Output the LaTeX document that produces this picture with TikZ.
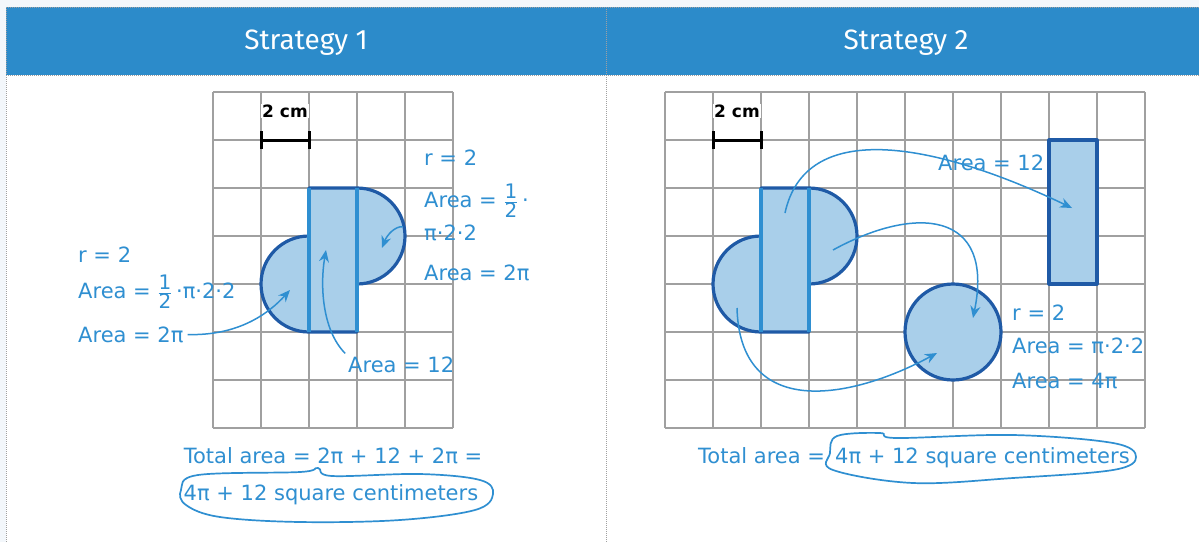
\documentclass[tikz,border=0pt]{standalone}
\usepackage{fontspec}
\setmainfont{DejaVu Sans}
\newfontfamily\headfont{Fira Sans}
\usepackage{xcolor}
\usetikzlibrary{arrows.meta}

\definecolor{headblue}{HTML}{2C8BCA}
\definecolor{penblue}{HTML}{2F8FD1}
\definecolor{edgeblue}{HTML}{1F5AA6}
\definecolor{fillblue}{HTML}{A9CFEA}
\definecolor{gridgrey}{HTML}{A0A0A0}
\definecolor{pagetint}{HTML}{F3F7FB}

\newcommand\halfof{$\frac{\hbox{\fontsize{20}{20}\selectfont 1}}{\hbox{\fontsize{20}{20}\selectfont 2}}$}

\tikzset{
  gridline/.style={gridgrey, line width=2pt},
  shapeedge/.style={edgeblue, line width=3.2pt, line join=round},
  sideedge/.style={penblue, line width=4pt},
  pen/.style={penblue, font=\fontsize{21}{25}\selectfont, inner sep=0pt, anchor=base west},
  pointer/.style={penblue, line width=1.5pt, shorten <=4pt, -{Stealth[length=12pt,width=10pt]}},
  ring/.style={penblue, line width=1.7pt},
  title/.style={white, font=\headfont\fontsize{28}{32}\selectfont},
  scalebar/.style={black, line width=3pt},
  scaletext/.style={black, fill=white, inner sep=1pt, font=\bfseries\fontsize{17}{19}\selectfont},
  border/.style={gridgrey, densely dotted, line width=1pt},
}

\begin{document}
\begin{tikzpicture}[x=1pt,y=-1pt]
        \useasboundingbox (0,0) rectangle (1199,542);
        % page and header band
        \fill[pagetint] (0,0) rectangle (1199,542);
        \fill[white] (6,75) rectangle (1199,542);
        \fill[headblue] (6,7) rectangle (1199,75);
        \draw[border] (6,7) -- (1199,7);
        \draw[border] (6,75) -- (1199,75);
        \draw[border] (6,7) -- (6,542);
        \draw[border] (606,7) -- (606,542);
        \node[title] (headOne) at (306,43) {Strategy 1};
        \node[title] (headTwo) at (906,43) {Strategy 2};

        % grids
        \foreach \gx in {213,261,...,453} \draw[gridline] (\gx,92) -- (\gx,428);
        \foreach \gy in {92,140,...,428} \draw[gridline] (213,\gy) -- (453,\gy);
        \foreach \gx in {665,713,...,1145} \draw[gridline] (\gx,92) -- (\gx,428);
        \foreach \gy in {92,140,...,428} \draw[gridline] (665,\gy) -- (1145,\gy);

        % scale bars
        \draw[scalebar] (261,140) -- (309,140);
        \draw[scalebar] (261,131) -- (261,149);
        \draw[scalebar] (309,131) -- (309,149);
        \node[scaletext] (scaleOne) at (285,111) {2 cm};
        \draw[scalebar] (713,140) -- (761,140);
        \draw[scalebar] (713,131) -- (713,149);
        \draw[scalebar] (761,131) -- (761,149);
        \node[scaletext] (scaleTwo) at (737,111) {2 cm};

        % strategy 1 figure
        \draw[shapeedge, fill=fillblue] (309,188) -- (357,188) arc[start angle=-90, end angle=90, radius=48]
             -- (357,332) -- (309,332) arc[start angle=90, end angle=270, radius=48] -- cycle;
        \draw[sideedge] (309,188) -- (309,332);
        \draw[sideedge] (357,188) -- (357,332);

        % strategy 2 figure
        \draw[shapeedge, fill=fillblue] (761,188) -- (809,188) arc[start angle=-90, end angle=90, radius=48]
             -- (809,332) -- (761,332) arc[start angle=90, end angle=270, radius=48] -- cycle;
        \draw[sideedge] (761,188) -- (761,332);
        \draw[sideedge] (809,188) -- (809,332);
        \draw[shapeedge, fill=fillblue] (1049,140) rectangle (1097,284);
        \draw[shapeedge, fill=fillblue] (953,332) circle[radius=48];

        % labels, strategy 1
        \node[pen] (oneLeftR) at (78,262) {r = 2};
        \node[pen] (oneLeftFormula) at (78,298) {Area = \halfof\,·π·2·2};
        \node[pen] (oneLeftArea) at (78,342) {Area = 2π};
        \node[pen] (oneRightR) at (424,165) {r = 2};
        \node[pen] (oneRightFormula) at (424,207) {Area = \halfof\,·};
        \node[pen] (oneRightPi) at (424,240) {π·2·2};
        \node[pen] (oneRightArea) at (424,280) {Area = 2π};
        \node[pen] (oneRectArea) at (348,372) {Area = 12};
        \node[pen, anchor=base] (oneTotal) at (333,463) {Total area = 2π + 12 + 2π =};
        \node[pen, anchor=base] (oneResult) at (331,500) {4π + 12 square centimeters};

        % labels, strategy 2
        \node[pen] (twoRectArea) at (938,170) {Area = 12};
        \node[pen] (twoR) at (1012,320) {r = 2};
        \node[pen] (twoFormula) at (1012,353) {Area = π·2·2};
        \node[pen] (twoArea) at (1012,388) {Area = 4π};
        \node[pen] (twoTotal) at (698,463) {Total area =};
        \node[pen] (twoResult) at (835,463) {4π + 12 square centimeters};

        % arrow targets
        \coordinate (oneLeftHalf) at (290,290);
        \coordinate (oneRect) at (326,250);
        \coordinate (oneRightHalf) at (382,248);
        \coordinate (twoRectStart) at (785,213);
        \coordinate (twoRect) at (1072,208);
        \coordinate (twoRightStart) at (833,250);
        \coordinate (twoLeftStart) at (737,308);
        \coordinate (twoCircA) at (973,318);
        \coordinate (twoCircB) at (937,353);

        % arrows
        \draw[pointer] (oneLeftArea.east) .. controls (240,336) and (270,312) .. (oneLeftHalf);
        \draw[pointer] (oneRectArea.north west) .. controls (322,330) and (320,285) .. (oneRect);
        \draw[pointer] (407,227) .. controls (395,226) and (387,235) .. (oneRightHalf);
        \draw[pointer, shorten <=0pt] (twoRectStart) .. controls (805,120) and (930,140) .. (twoRect);
        \draw[pointer, shorten <=0pt] (twoRightStart) .. controls (915,205) and (995,210) .. (twoCircA);
        \draw[pointer, shorten <=0pt] (twoLeftStart) .. controls (740,420) and (850,400) .. (twoCircB);

        % rings round the results
        \draw[ring] plot[smooth cycle, tension=0.6] coordinates {(181,490) (198,475) (300,472) (318,468) (332,476)
             (420,474) (480,480) (493,494) (475,510) (400,520) (300,522) (220,517) (186,505)};
        \draw[ring] plot[smooth cycle, tension=0.6] coordinates {(830,453) (837,436) (880,433) (897,438) (1013,435)
             (1113,443) (1136,457) (1113,470) (1013,478) (913,483) (833,470)};
\end{tikzpicture}
\end{document}
